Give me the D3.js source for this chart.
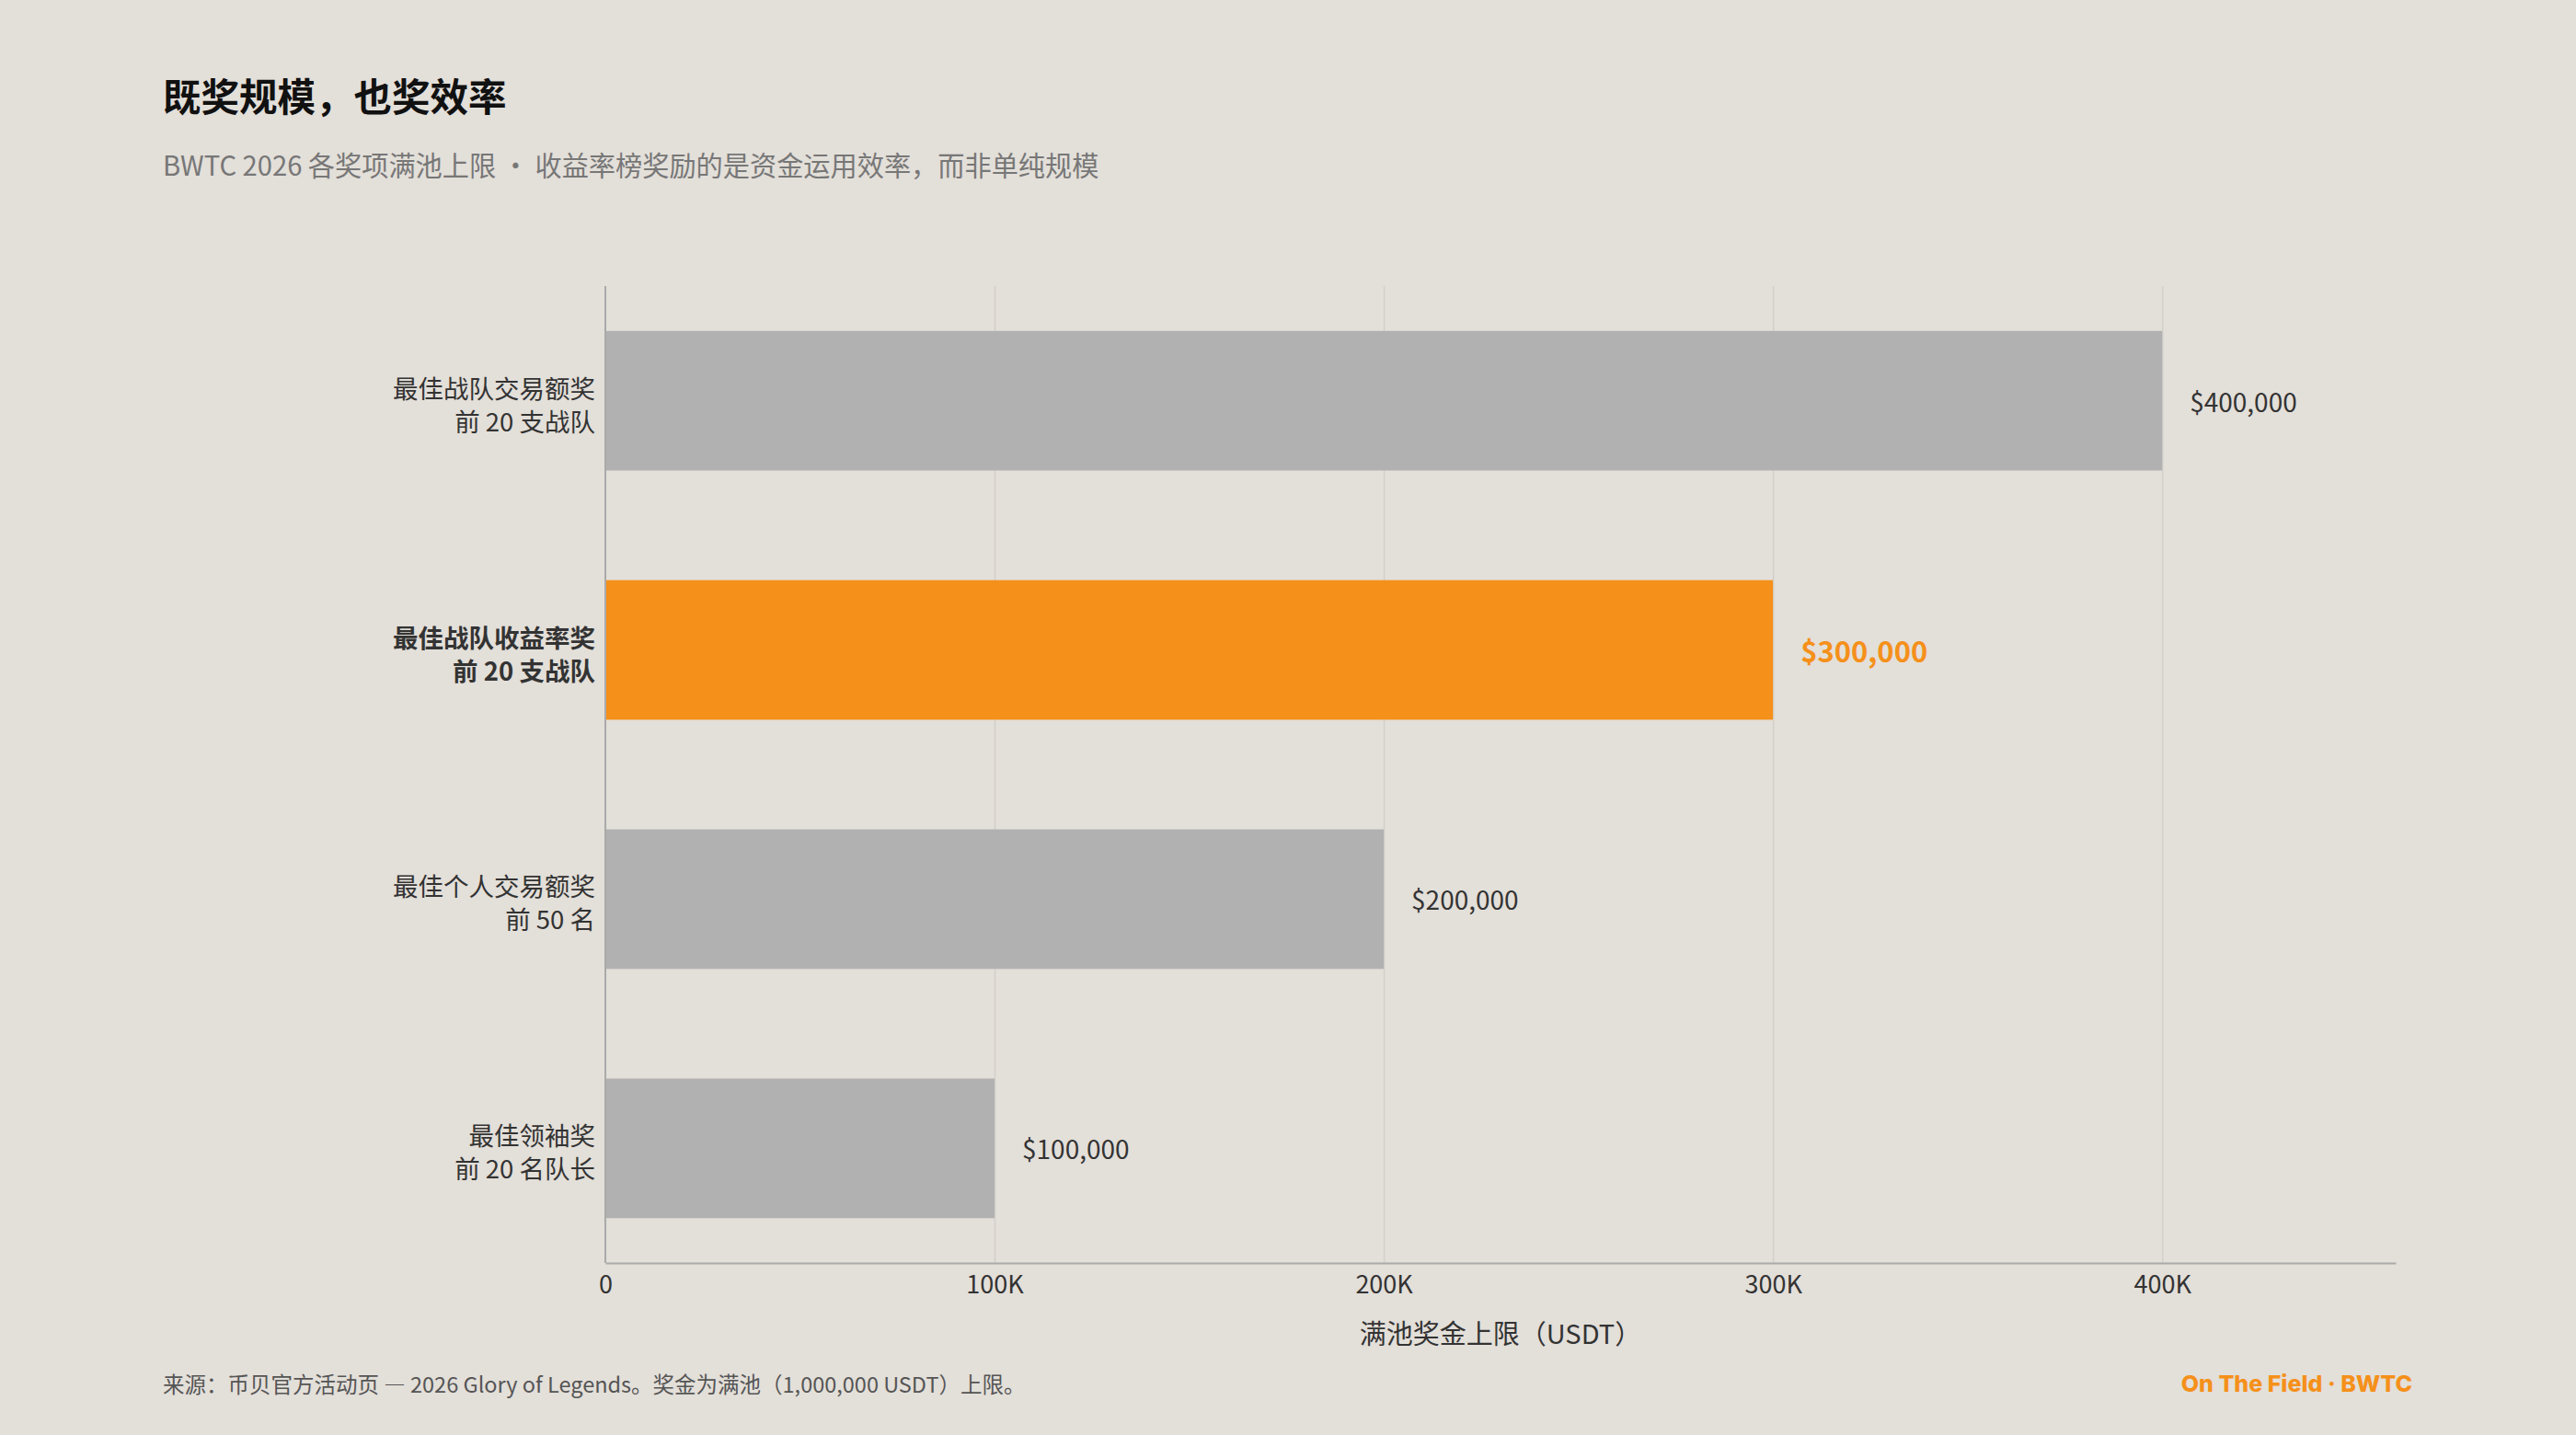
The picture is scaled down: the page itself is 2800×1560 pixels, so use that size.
<!DOCTYPE html>
<html lang="zh">

<head>
    <meta charset="UTF-8">
    <title>既奖规模，也奖效率</title>
    <script src="https://d3js.org/d3.v7.min.js"></script>
    <style>
        body,
        html {
            margin: 0;
            padding: 0;
            background: #e3dfd9;
            font-family: "Noto Sans CJK SC", "Noto Sans", sans-serif;
        }

        .grid line {
            stroke: #d3cfca;
            stroke-width: 1.5;
        }

        .grid .domain {
            display: none;
        }
    </style>
</head>

<body>
    <svg width="2800" height="1560" id="chart"></svg>

    <script>
        // Award names (line 1) and who gets them (line 2)
        const awardNames = ["最佳战队交易额奖", "最佳战队收益率奖", "最佳个人交易额奖", "最佳领袖奖"];
        const awardScopes = ["前 20 支战队", "前 20 支战队", "前 50 名", "前 20 名队长"];
        const prizeCaps = [400000, 300000, 200000, 100000]; // USDT
        const highlightIndex = 1; // the yield leaderboard

        const tickValues = [0, 100000, 200000, 300000, 400000];
        const tickLabels = ["0", "100K", "200K", "300K", "400K"];

        const svg = d3.select("#chart");

        const margin = { left: 658, right: 196, top: 311, bottom: 187 };
        const width = 2800, height = 1560;

        const x = d3.scaleLinear()
            .domain([0, 460000])
            .range([margin.left, width - margin.right]);

        const y = d3.scaleBand()
            .domain(d3.range(awardNames.length))
            .range([margin.top, height - margin.bottom])
            .paddingInner(0.44)
            .paddingOuter(0.18);

        // title + subtitle
        svg.append("text")
            .attr("x", 177)
            .attr("y", 121)
            .attr("font-size", 41.5)
            .attr("font-weight", 700)
            .attr("fill", "#111")
            .text("既奖规模，也奖效率");

        svg.append("text")
            .attr("x", 177)
            .attr("y", 191)
            .attr("font-size", 29.2)
            .attr("fill", "#777")
            .attr("xml:space", "preserve")
            .text("BWTC 2026 各奖项满池上限 · 收益率榜奖励的是资金运用效率，而非单纯规模");

        // vertical gridlines
        svg.append("g")
            .attr("class", "grid")
            .attr("transform", `translate(0,${height - margin.bottom})`)
            .call(d3.axisBottom(x)
                .tickValues(tickValues.slice(1))
                .tickSize(-(height - margin.bottom - margin.top))
                .tickFormat(""));

        // bars
        svg.selectAll(".bar")
            .data(prizeCaps)
            .enter()
            .append("rect")
            .attr("class", "bar")
            .attr("x", x(0))
            .attr("y", (d, i) => y(i))
            .attr("width", d => x(d) - x(0))
            .attr("height", y.bandwidth())
            .attr("fill", (d, i) => i === highlightIndex ? "#f5901a" : "#b1b1b1");

        // value labels
        svg.selectAll(".value")
            .data(prizeCaps)
            .enter()
            .append("text")
            .attr("class", "value")
            .attr("x", d => x(d) + 30)
            .attr("y", (d, i) => y(i) + y.bandwidth() / 2)
            .attr("dominant-baseline", "central")
            .attr("font-size", (d, i) => i === highlightIndex ? 31 : 28)
            .attr("font-weight", (d, i) => i === highlightIndex ? 700 : 400)
            .attr("fill", (d, i) => i === highlightIndex ? "#f5901a" : "#333")
            .text(d => "$" + d3.format(",")(d));

        // category labels, two lines each
        const cat = svg.selectAll(".cat")
            .data(awardNames)
            .enter()
            .append("text")
            .attr("class", "cat")
            .attr("text-anchor", "end")
            .attr("dominant-baseline", "central")
            .attr("font-size", 27.5)
            .attr("font-weight", (d, i) => i === highlightIndex ? 700 : 400)
            .attr("fill", "#333");

        cat.append("tspan")
            .attr("x", x(0) - 11)
            .attr("y", (d, i) => y(i) + y.bandwidth() / 2 - 15)
            .text(d => d);

        cat.append("tspan")
            .attr("x", x(0) - 11)
            .attr("y", (d, i) => y(i) + y.bandwidth() / 2 + 21)
            .text((d, i) => awardScopes[i]);

        // left axis line
        svg.append("line")
            .attr("x1", x(0))
            .attr("x2", x(0))
            .attr("y1", margin.top)
            .attr("y2", height - margin.bottom)
            .attr("stroke", "#aaa")
            .attr("stroke-width", 2);

        // bottom axis
        const xAxis = svg.append("g")
            .attr("transform", `translate(0,${height - margin.bottom})`)
            .call(d3.axisBottom(x)
                .tickValues(tickValues)
                .tickSize(0)
                .tickPadding(14)
                .tickFormat((d, i) => tickLabels[i]));

        xAxis.select(".domain")
            .attr("stroke", "#aaa")
            .attr("stroke-width", 2);

        xAxis.selectAll("text")
            .attr("font-size", 27)
            .attr("font-family", "Noto Sans CJK SC")
            .attr("fill", "#333");

        svg.append("text")
            .attr("x", (x.range()[0] + x.range()[1]) / 2)
            .attr("y", 1448)
            .attr("text-anchor", "middle")
            .attr("dominant-baseline", "central")
            .attr("font-size", 29)
            .attr("fill", "#333")
            .text("满池奖金上限（USDT）");

        // footer
        svg.append("text")
            .attr("x", 177)
            .attr("y", 1504)
            .attr("dominant-baseline", "central")
            .attr("font-size", 23.5)
            .attr("fill", "#555")
            .text("来源：币贝官方活动页 — 2026 Glory of Legends。奖金为满池（1,000,000 USDT）上限。");

        svg.append("text")
            .attr("x", 2622)
            .attr("y", 1504)
            .attr("text-anchor", "end")
            .attr("dominant-baseline", "central")
            .attr("font-family", "Inter, sans-serif")
            .attr("font-size", 25)
            .attr("font-weight", 800)
            .attr("fill", "#f5901a")
            .text("On The Field · BWTC");
    </script>
</body>

</html>
